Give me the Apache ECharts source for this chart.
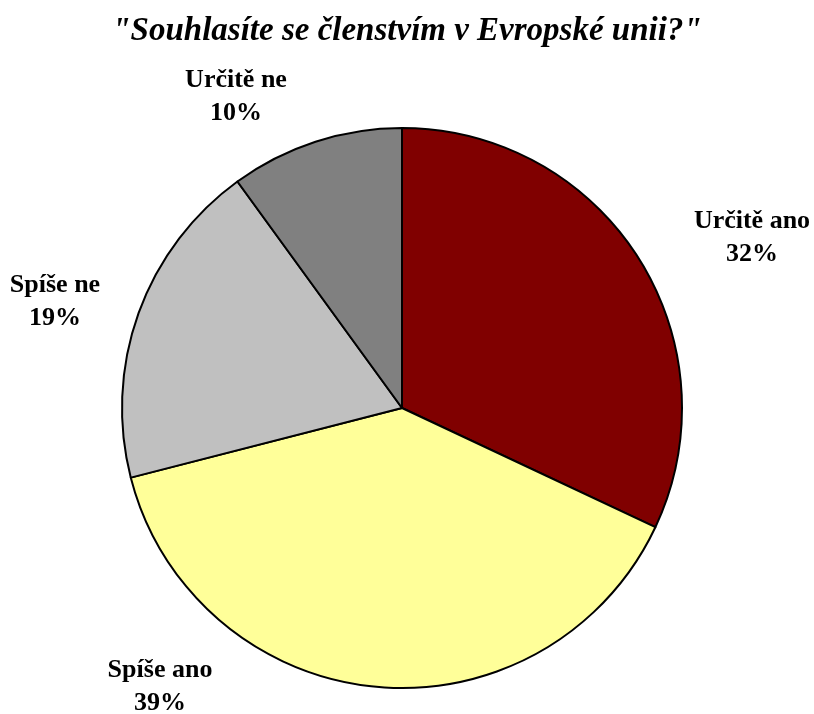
<!DOCTYPE html>
<html>
<head>
<meta charset="utf-8">
<script src="https://cdn.jsdelivr.net/npm/echarts@6/dist/echarts.min.js"></script>
<style>
    html, body { margin: 0; padding: 0; background: #fff; }
</style>
</head>
<body>
<div id="pieReport" style="width:814px;height:714px;"></div>
<script type="text/javascript">
    // data
    var categories = ['Určitě ano', 'Spíše ano', 'Spíše ne', 'Určitě ne'];
    var values = [32, 39, 19, 10];
    var colors = ['#800000', '#FFFF99', '#C0C0C0', '#808080'];
    // where each label sits (centre of the text block)
    var labelPos = [[752, 238], [160, 687], [55, 302], [236, 97]];

    var pieData = [];
    for (var i = 0; i < categories.length; i++) {
        pieData.push({ name: categories[i], value: values[i], itemStyle: { color: colors[i] } });
    }

    var myChart = echarts.init(document.getElementById('pieReport'));
    var option = {
        animation: false,
        title: {
            text: '"Souhlasíte se členstvím v Evropské unii?"',
            left: 'center',
            top: 10,
            textStyle: {
                fontFamily: 'Liberation Serif',
                fontStyle: 'italic',
                fontWeight: 'bold',
                fontSize: 33,
                color: '#000'
            }
        },
        series: [
            {
                type: 'pie',
                center: [402, 408],
                radius: [0, 280],
                startAngle: 90,
                clockwise: true,
                percentPrecision: 0,
                itemStyle: { borderColor: '#000', borderWidth: 2 },
                label: {
                    show: true,
                    position: 'inside',
                    overflow: 'none',
                    formatter: '{b}\n{d}%',
                    fontFamily: 'Liberation Serif',
                    fontWeight: 'bold',
                    fontSize: 26,
                    lineHeight: 33,
                    color: '#000',
                    align: 'center'
                },
                labelLine: { show: false },
                labelLayout: function (params) {
                    var p = labelPos[params.dataIndex];
                    return { x: p[0], y: p[1], align: 'center', verticalAlign: 'middle' };
                },
                emphasis: { disabled: true },
                data: pieData
            }
        ]
    };
    myChart.setOption(option);
</script>
</body>
</html>
